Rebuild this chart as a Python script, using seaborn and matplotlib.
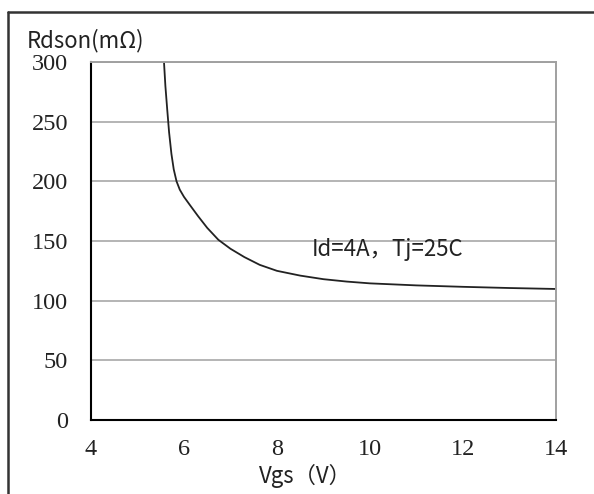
import pandas as pd
import numpy as np
import matplotlib.pyplot as plt
import seaborn as sns
from matplotlib.lines import Line2D

sns.set_style("white")
plt.rcParams['font.family'] = ['Liberation Serif', 'DejaVu Sans']

# data
vgs = [5.57, 5.60, 5.64, 5.68, 5.73, 5.78, 5.84, 5.91, 6.0, 6.13, 6.3, 6.5, 6.74,
       7.0, 7.3, 7.63, 8.0, 8.5, 9.0, 9.5, 10.0, 11.0, 12.0, 13.0, 14.0]
rdson = [300, 280, 260, 241, 223, 210, 200, 193, 187, 180, 171, 161, 151,
         143.5, 136.5, 130, 125, 121, 118, 116, 114.5, 112.8, 111.6, 110.6, 109.8]
x_ticks = [4, 6, 8, 10, 12, 14]
y_ticks = [0, 50, 100, 150, 200, 250, 300]

df = pd.DataFrame({"Vgs": vgs, "Rdson": rdson})

fig = plt.figure(figsize=(5.94, 4.94), dpi=100)
ax = fig.add_axes([0.1532, 0.1498, 0.7826, 0.7247])

sns.lineplot(data=df, x="Vgs", y="Rdson", ax=ax, color="#222222", linewidth=1.3)

ax.set_xlim(4, 14)
ax.set_ylim(0, 300)
ax.set_xticks(x_ticks)
ax.set_yticks(y_ticks)
ax.grid(axis="y", color="#b4b4b4", linewidth=1.4)
ax.set_axisbelow(True)

for side in ["top", "right"]:
    ax.spines[side].set_color("#a0a0a0")
    ax.spines[side].set_linewidth(1.4)
for side in ["left", "bottom"]:
    ax.spines[side].set_color("black")
    ax.spines[side].set_linewidth(1.5)

ax.tick_params(axis="both", direction="inout", length=11, width=1.3,
               labelsize=17.5, color="black", labelcolor="#222222")
ax.tick_params(axis="x", pad=8)
ax.tick_params(axis="y", pad=11)

ax.set_xlabel("")
ax.set_ylabel("")
cjk = ["Noto Sans CJK SC", "DejaVu Sans"]
fig.text(0.045, 0.917, "Rdson(mΩ)", fontsize=16, family=cjk,
         color="#222222", va="center", ha="left")
fig.text(0.515, 0.036, "Vgs（V）", fontsize=16, family=cjk,
         color="#222222", va="center", ha="center")
ax.text(10.39, 142.5, "Id=4A，Tj=25C", fontsize=16, family=cjk,
        color="#222222", va="center", ha="center")

# outer frame of the original picture
fig.add_artist(Line2D([0.013, 1.0], [0.976, 0.976], transform=fig.transFigure,
                      color="#333333", linewidth=1.8))
fig.add_artist(Line2D([0.014, 0.014], [0.0, 0.976], transform=fig.transFigure,
                      color="#333333", linewidth=1.8))

fig.savefig("out.png", dpi=100)
